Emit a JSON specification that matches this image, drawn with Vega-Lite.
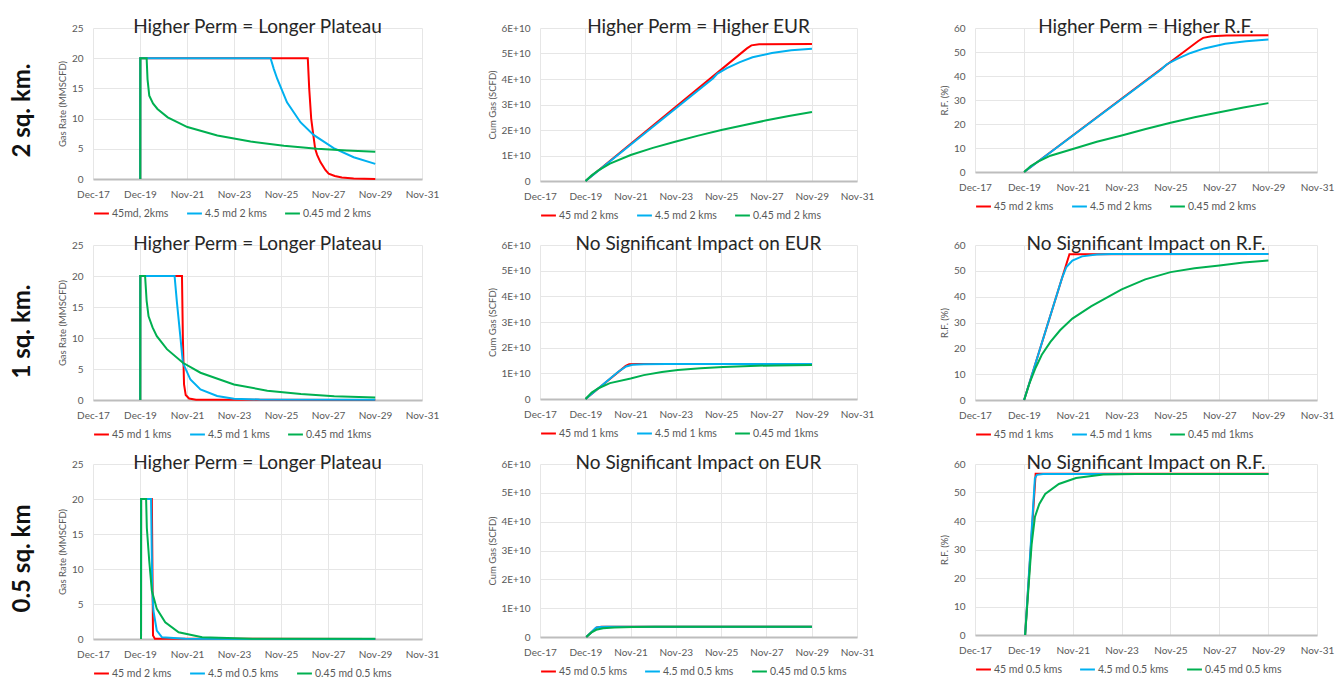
{
"$schema":"https://vega.github.io/schema/vega-lite/v6.json",
"background":"white",
"padding":{"left":11,"top":18,"right":5,"bottom":1},
"spacing":14,
"config":{
 "font":"Lato",
 "view":{"stroke":null},
 "axis":{"labelColor":"#595959","labelFontSize":10,"titleColor":"#595959","titleFontSize":9.5,"titleFontWeight":"normal","gridColor":"#e6e6e6","ticks":false,"domain":false,"labelPadding":10,"titlePadding":4},
 "axisX":{"domain":true,"domainColor":"#bdbdbd","domainWidth":2,"labelPadding":10},
 "legend":{"orient":"bottom","direction":"horizontal","gridAlign":"none","symbolType":"stroke","symbolStrokeWidth":2.5,"symbolSize":220,"labelFontSize":10.5,"labelColor":"#595959","columnPadding":14,"offset":6,"labelOffset":2},
 "title":{"fontSize":19,"fontWeight":"normal","color":"#262626","offset":-14},
 "line":{"strokeWidth":2}
},
"resolve":{"scale":{"color":"independent"},"legend":{"color":"independent"}},
"datasets":{
"r11":[
{"k":"a","d":"2019-12-05","v":0},{"k":"a","d":"2019-12-06","v":20},{"k":"a","d":"2027-01-19","v":20},{"k":"a","d":"2027-02-10","v":15},{"k":"a","d":"2027-03-13","v":10},{"k":"a","d":"2027-04-12","v":7.5},{"k":"a","d":"2027-05-14","v":5},{"k":"a","d":"2027-06-13","v":4},{"k":"a","d":"2027-08-03","v":2.8},{"k":"a","d":"2027-10-19","v":1.5},{"k":"a","d":"2027-12-09","v":0.9},{"k":"a","d":"2028-03-13","v":0.5},{"k":"a","d":"2028-07-01","v":0.25},{"k":"a","d":"2029-01-01","v":0.08},{"k":"a","d":"2029-12-02","v":0.02},
{"k":"b","d":"2019-12-05","v":0},{"k":"b","d":"2019-12-06","v":20},{"k":"b","d":"2025-06-20","v":20},{"k":"b","d":"2025-08-10","v":18.2},{"k":"b","d":"2025-10-01","v":16.6},{"k":"b","d":"2026-03-02","v":12.7},{"k":"b","d":"2026-09-27","v":9.4},{"k":"b","d":"2027-04-19","v":7.3},{"k":"b","d":"2028-02-25","v":5.1},{"k":"b","d":"2029-01-01","v":3.6},{"k":"b","d":"2029-12-02","v":2.5},
{"k":"c","d":"2019-12-05","v":0},{"k":"c","d":"2019-12-06","v":20},{"k":"c","d":"2020-03-13","v":20},{"k":"c","d":"2020-03-27","v":16.5},{"k":"c","d":"2020-04-23","v":13.8},{"k":"c","d":"2020-06-20","v":12.5},{"k":"c","d":"2020-08-28","v":11.6},{"k":"c","d":"2021-02-03","v":10.2},{"k":"c","d":"2021-12-06","v":8.6},{"k":"c","d":"2023-03-16","v":7.2},{"k":"c","d":"2024-08-14","v":6.2},{"k":"c","d":"2026-01-12","v":5.5},{"k":"c","d":"2027-06-13","v":5.0},{"k":"c","d":"2028-09-13","v":4.7},{"k":"c","d":"2029-12-02","v":4.5}
],
"r12":[
{"k":"a","d":"2019-12-05","v":0},{"k":"a","d":"2027-01-19","v":5.2e10},{"k":"a","d":"2027-04-01","v":5.32e10},{"k":"a","d":"2027-08-03","v":5.36e10},{"k":"a","d":"2029-12-02","v":5.37e10},
{"k":"b","d":"2019-12-05","v":0},{"k":"b","d":"2025-07-19","v":4.02e10},{"k":"b","d":"2025-10-01","v":4.21e10},{"k":"b","d":"2026-03-02","v":4.43e10},{"k":"b","d":"2026-09-27","v":4.66e10},{"k":"b","d":"2027-04-19","v":4.85e10},{"k":"b","d":"2028-02-25","v":5.02e10},{"k":"b","d":"2029-01-01","v":5.13e10},{"k":"b","d":"2029-12-02","v":5.19e10},
{"k":"c","d":"2019-12-05","v":0},{"k":"c","d":"2020-03-13","v":2.2e9},{"k":"c","d":"2020-07-01","v":4.2e9},{"k":"c","d":"2021-01-01","v":6.8e9},{"k":"c","d":"2021-12-02","v":1.02e10},{"k":"c","d":"2022-11-25","v":1.3e10},{"k":"c","d":"2023-12-02","v":1.55e10},{"k":"c","d":"2024-11-25","v":1.78e10},{"k":"c","d":"2025-12-02","v":2.0e10},{"k":"c","d":"2026-11-25","v":2.19e10},{"k":"c","d":"2027-12-02","v":2.38e10},{"k":"c","d":"2028-11-25","v":2.55e10},{"k":"c","d":"2029-12-02","v":2.71e10}
],
"r13":[
{"k":"a","d":"2019-12-05","v":0},{"k":"a","d":"2027-01-19","v":54.6},{"k":"a","d":"2027-04-01","v":55.9},{"k":"a","d":"2027-08-03","v":56.6},{"k":"a","d":"2028-03-13","v":56.9},{"k":"a","d":"2029-12-02","v":57.0},
{"k":"b","d":"2019-12-05","v":0},{"k":"b","d":"2025-07-19","v":42.8},{"k":"b","d":"2025-10-01","v":44.8},{"k":"b","d":"2026-03-02","v":47.0},{"k":"b","d":"2026-09-27","v":49.6},{"k":"b","d":"2027-04-19","v":51.5},{"k":"b","d":"2028-02-25","v":53.4},{"k":"b","d":"2029-01-01","v":54.5},{"k":"b","d":"2029-12-02","v":55.2},
{"k":"c","d":"2019-12-05","v":0},{"k":"c","d":"2020-03-13","v":2.5},{"k":"c","d":"2020-07-01","v":4.3},{"k":"c","d":"2021-01-01","v":6.8},{"k":"c","d":"2021-12-02","v":9.6},{"k":"c","d":"2022-11-25","v":12.6},{"k":"c","d":"2023-12-02","v":15.2},{"k":"c","d":"2024-11-25","v":17.9},{"k":"c","d":"2025-12-02","v":20.5},{"k":"c","d":"2026-11-25","v":22.8},{"k":"c","d":"2027-12-02","v":24.9},{"k":"c","d":"2028-11-25","v":26.9},{"k":"c","d":"2029-12-02","v":28.7}
],
"r21":[
{"k":"a","d":"2019-12-05","v":0},{"k":"a","d":"2019-12-06","v":20},{"k":"a","d":"2021-09-13","v":20},{"k":"a","d":"2021-09-27","v":10},{"k":"a","d":"2021-10-15","v":2.5},{"k":"a","d":"2021-11-10","v":0.8},{"k":"a","d":"2022-01-01","v":0.25},{"k":"a","d":"2022-04-19","v":0.05},{"k":"a","d":"2029-12-02","v":0},
{"k":"b","d":"2019-12-05","v":0},{"k":"b","d":"2019-12-06","v":20},{"k":"b","d":"2021-05-21","v":20},{"k":"b","d":"2021-06-27","v":15.7},{"k":"b","d":"2021-08-18","v":10.3},{"k":"b","d":"2021-09-27","v":6.0},{"k":"b","d":"2022-01-22","v":3.3},{"k":"b","d":"2022-06-27","v":1.7},{"k":"b","d":"2023-03-13","v":0.65},{"k":"b","d":"2023-11-29","v":0.2},{"k":"b","d":"2025-01-01","v":0.08},{"k":"b","d":"2029-12-02","v":0.05},
{"k":"c","d":"2019-12-05","v":0},{"k":"c","d":"2019-12-06","v":20},{"k":"c","d":"2020-02-18","v":20},{"k":"c","d":"2020-03-13","v":16},{"k":"c","d":"2020-04-12","v":13.5},{"k":"c","d":"2020-06-13","v":11.7},{"k":"c","d":"2020-08-18","v":10.3},{"k":"c","d":"2021-01-22","v":8.2},{"k":"c","d":"2021-09-27","v":6.0},{"k":"c","d":"2022-06-27","v":4.4},{"k":"c","d":"2023-11-29","v":2.5},{"k":"c","d":"2025-04-30","v":1.5},{"k":"c","d":"2026-10-04","v":0.95},{"k":"c","d":"2028-03-05","v":0.6},{"k":"c","d":"2029-12-02","v":0.4}
],
"r22":[
{"k":"a","d":"2019-12-05","v":0},{"k":"a","d":"2021-09-13","v":1.29e10},{"k":"a","d":"2021-11-07","v":1.35e10},{"k":"a","d":"2022-03-13","v":1.36e10},{"k":"a","d":"2029-12-02","v":1.36e10},
{"k":"b","d":"2019-12-05","v":0},{"k":"b","d":"2021-05-21","v":1.07e10},{"k":"b","d":"2021-09-20","v":1.27e10},{"k":"b","d":"2022-01-01","v":1.33e10},{"k":"b","d":"2022-07-01","v":1.35e10},{"k":"b","d":"2023-07-01","v":1.36e10},{"k":"b","d":"2029-12-02","v":1.36e10},
{"k":"c","d":"2019-12-05","v":0},{"k":"c","d":"2020-03-13","v":2.5e9},{"k":"c","d":"2020-07-01","v":4.2e9},{"k":"c","d":"2021-01-01","v":6.2e9},{"k":"c","d":"2021-12-02","v":8.0e9},{"k":"c","d":"2022-07-01","v":9.3e9},{"k":"c","d":"2023-04-19","v":1.05e10},{"k":"c","d":"2024-01-01","v":1.13e10},{"k":"c","d":"2025-01-01","v":1.2e10},{"k":"c","d":"2026-01-01","v":1.25e10},{"k":"c","d":"2027-03-13","v":1.29e10},{"k":"c","d":"2028-04-19","v":1.31e10},{"k":"c","d":"2029-12-02","v":1.32e10}
],
"r23":[
{"k":"a","d":"2019-12-05","v":0},{"k":"a","d":"2021-10-12","v":56.4},{"k":"a","d":"2029-12-02","v":56.5},
{"k":"b","d":"2019-12-05","v":0},{"k":"b","d":"2021-06-27","v":47.5},{"k":"b","d":"2021-08-28","v":51.5},{"k":"b","d":"2021-11-25","v":54.0},{"k":"b","d":"2022-04-19","v":55.6},{"k":"b","d":"2022-11-25","v":56.3},{"k":"b","d":"2023-07-01","v":56.5},{"k":"b","d":"2029-12-02","v":56.5},
{"k":"c","d":"2019-12-05","v":0},{"k":"c","d":"2020-02-18","v":6.1},{"k":"c","d":"2020-05-25","v":12.5},{"k":"c","d":"2020-08-25","v":17.5},{"k":"c","d":"2021-01-01","v":22.5},{"k":"c","d":"2021-05-25","v":27.0},{"k":"c","d":"2021-11-25","v":31.5},{"k":"c","d":"2022-09-06","v":36.3},{"k":"c","d":"2023-12-02","v":42.8},{"k":"c","d":"2024-11-18","v":46.7},{"k":"c","d":"2025-12-02","v":49.5},{"k":"c","d":"2026-11-25","v":51.0},{"k":"c","d":"2027-12-02","v":52.1},{"k":"c","d":"2028-11-25","v":53.2},{"k":"c","d":"2029-12-02","v":54.0}
],
"r31":[
{"k":"a","d":"2019-12-17","v":0},{"k":"a","d":"2019-12-18","v":20},{"k":"a","d":"2020-06-02","v":20},{"k":"a","d":"2020-06-20","v":0.5},{"k":"a","d":"2020-07-19","v":0.05},{"k":"a","d":"2029-12-02","v":0},
{"k":"b","d":"2019-12-17","v":0},{"k":"b","d":"2019-12-18","v":20},{"k":"b","d":"2020-05-21","v":20},{"k":"b","d":"2020-06-08","v":7.0},{"k":"b","d":"2020-06-27","v":4.0},{"k":"b","d":"2020-08-18","v":1.2},{"k":"b","d":"2020-11-07","v":0.24},{"k":"b","d":"2021-11-03","v":0.02},{"k":"b","d":"2029-12-02","v":0},
{"k":"c","d":"2019-12-17","v":0},{"k":"c","d":"2019-12-18","v":20},{"k":"c","d":"2020-03-05","v":20},{"k":"c","d":"2020-03-16","v":15.9},{"k":"c","d":"2020-04-23","v":11.1},{"k":"c","d":"2020-06-02","v":6.9},{"k":"c","d":"2020-08-18","v":4.3},{"k":"c","d":"2020-12-27","v":2.4},{"k":"c","d":"2021-07-23","v":0.95},{"k":"c","d":"2022-07-23","v":0.24},{"k":"c","d":"2024-09-13","v":0.05},{"k":"c","d":"2029-12-02","v":0.02}
],
"r32":[
{"k":"a","d":"2019-12-17","v":0},{"k":"a","d":"2020-06-02","v":3.3e9},{"k":"a","d":"2020-08-18","v":3.55e9},{"k":"a","d":"2029-12-02","v":3.55e9},
{"k":"b","d":"2019-12-17","v":0},{"k":"b","d":"2020-05-21","v":3.2e9},{"k":"b","d":"2020-07-19","v":3.45e9},{"k":"b","d":"2020-11-07","v":3.55e9},{"k":"b","d":"2029-12-02","v":3.55e9},
{"k":"c","d":"2019-12-17","v":0},{"k":"c","d":"2020-03-05","v":1.5e9},{"k":"c","d":"2020-05-25","v":2.5e9},{"k":"c","d":"2020-09-13","v":3.0e9},{"k":"c","d":"2021-03-13","v":3.3e9},{"k":"c","d":"2022-01-01","v":3.5e9},{"k":"c","d":"2023-01-01","v":3.55e9},{"k":"c","d":"2029-12-02","v":3.55e9}
],
"r33":[
{"k":"a","d":"2019-12-20","v":0},{"k":"a","d":"2020-05-25","v":56.6},{"k":"a","d":"2029-12-02","v":56.6},
{"k":"b","d":"2019-12-20","v":0},{"k":"b","d":"2020-05-14","v":55.0},{"k":"b","d":"2020-06-13","v":56.2},{"k":"b","d":"2020-09-13","v":56.5},{"k":"b","d":"2029-12-02","v":56.5},
{"k":"c","d":"2019-12-20","v":0},{"k":"c","d":"2020-03-05","v":25},{"k":"c","d":"2020-03-27","v":32},{"k":"c","d":"2020-05-14","v":41.4},{"k":"c","d":"2020-07-19","v":46},{"k":"c","d":"2020-10-15","v":49.5},{"k":"c","d":"2021-05-07","v":53},{"k":"c","d":"2022-01-19","v":55.1},{"k":"c","d":"2023-03-02","v":56.3},{"k":"c","d":"2024-07-01","v":56.5},{"k":"c","d":"2029-12-02","v":56.5}
]
},
"vconcat":[
{"title":{"text":"2 sq. km.","orient":"left","anchor":"middle","fontSize":24,"fontWeight":"bold","color":"#111111","offset":22,"dx":9},
 "spacing":65,"resolve":{"scale":{"color":"independent"},"legend":{"color":"independent"}},
 "hconcat":[
 {"spacing":48,"resolve":{"scale":{"color":"independent"},"legend":{"color":"independent"}},
  "hconcat":[
  {"width":329,"height":151,"data":{"name":"r11"},"title":"Higher Perm = Longer Plateau","mark":{"type":"line"},
   "encoding":{
    "x":{"field":"d","type":"temporal","scale":{"type":"utc","domain":[{"year":2017,"month":12,"date":1,"utc":true},{"year":2031,"month":11,"date":28,"utc":true}]},"axis":{"title":null,"format":"%b-%y","labelOverlap":false,"labelFlush":false,"values":[{"year":2017,"month":12,"date":1,"utc":true},{"year":2019,"month":12,"date":1,"utc":true},{"year":2021,"month":11,"date":30,"utc":true},{"year":2023,"month":11,"date":30,"utc":true},{"year":2025,"month":11,"date":29,"utc":true},{"year":2027,"month":11,"date":29,"utc":true},{"year":2029,"month":11,"date":28,"utc":true},{"year":2031,"month":11,"date":28,"utc":true}]}},
    "y":{"field":"v","type":"quantitative","scale":{"domain":[0,25],"nice":false},"axis":{"title":"Gas Rate (MMSCFD)","values":[0,5,10,15,20,25]}},
    "color":{"field":"k","type":"nominal","scale":{"domain":["a","b","c"],"range":["#ff0000","#00b0f0","#00b050"]},"legend":{"title":null,"labelExpr":"datum.label=='a'?'45md, 2kms':datum.label=='b'?'4.5 md 2 kms':'0.45 md 2 kms'"}}}},
  {"width":317,"height":153,"data":{"name":"r12"},"title":"Higher Perm = Higher EUR","mark":{"type":"line"},
   "encoding":{
    "x":{"field":"d","type":"temporal","scale":{"type":"utc","domain":[{"year":2017,"month":12,"date":1,"utc":true},{"year":2031,"month":11,"date":28,"utc":true}]},"axis":{"title":null,"format":"%b-%y","labelOverlap":false,"labelFlush":false,"values":[{"year":2017,"month":12,"date":1,"utc":true},{"year":2019,"month":12,"date":1,"utc":true},{"year":2021,"month":11,"date":30,"utc":true},{"year":2023,"month":11,"date":30,"utc":true},{"year":2025,"month":11,"date":29,"utc":true},{"year":2027,"month":11,"date":29,"utc":true},{"year":2029,"month":11,"date":28,"utc":true},{"year":2031,"month":11,"date":28,"utc":true}]}},
    "y":{"field":"v","type":"quantitative","scale":{"domain":[0,6e10],"nice":false},"axis":{"title":"Cum Gas (SCFD)","values":[0,1e10,2e10,3e10,4e10,5e10,6e10],"labelExpr":"datum.value==0?'0':round(datum.value/1e10)+'E+10'"}},
    "color":{"field":"k","type":"nominal","scale":{"domain":["a","b","c"],"range":["#ff0000","#00b0f0","#00b050"]},"legend":{"title":null,"labelExpr":"datum.label=='a'?'45 md 2 kms':datum.label=='b'?'4.5 md 2 kms':'0.45 md 2 kms'"}}}}
  ]},
  {"width":342,"height":144,"data":{"name":"r13"},"title":"Higher Perm = Higher R.F.","mark":{"type":"line"},
   "encoding":{
    "x":{"field":"d","type":"temporal","scale":{"type":"utc","domain":[{"year":2017,"month":12,"date":1,"utc":true},{"year":2031,"month":11,"date":28,"utc":true}]},"axis":{"title":null,"format":"%b-%y","labelOverlap":false,"labelFlush":false,"values":[{"year":2017,"month":12,"date":1,"utc":true},{"year":2019,"month":12,"date":1,"utc":true},{"year":2021,"month":11,"date":30,"utc":true},{"year":2023,"month":11,"date":30,"utc":true},{"year":2025,"month":11,"date":29,"utc":true},{"year":2027,"month":11,"date":29,"utc":true},{"year":2029,"month":11,"date":28,"utc":true},{"year":2031,"month":11,"date":28,"utc":true}]}},
    "y":{"field":"v","type":"quantitative","scale":{"domain":[0,60],"nice":false},"axis":{"title":"R.F. (%)","values":[0,10,20,30,40,50,60]}},
    "color":{"field":"k","type":"nominal","scale":{"domain":["a","b","c"],"range":["#ff0000","#00b0f0","#00b050"]},"legend":{"title":null,"labelExpr":"datum.label=='a'?'45 md 2 kms':datum.label=='b'?'4.5 md 2 kms':'0.45 md 2 kms'"}}}}
 ]},
{"title":{"text":"1 sq. km.","orient":"left","anchor":"middle","fontSize":24,"fontWeight":"bold","color":"#111111","offset":22,"dx":6},
 "spacing":65,"resolve":{"scale":{"color":"independent"},"legend":{"color":"independent"}},
 "hconcat":[
 {"spacing":48,"resolve":{"scale":{"color":"independent"},"legend":{"color":"independent"}},
  "hconcat":[
  {"width":329,"height":155,"data":{"name":"r21"},"title":"Higher Perm = Longer Plateau","mark":{"type":"line"},
   "encoding":{
    "x":{"field":"d","type":"temporal","scale":{"type":"utc","domain":[{"year":2017,"month":12,"date":1,"utc":true},{"year":2031,"month":11,"date":28,"utc":true}]},"axis":{"title":null,"format":"%b-%y","labelOverlap":false,"labelFlush":false,"values":[{"year":2017,"month":12,"date":1,"utc":true},{"year":2019,"month":12,"date":1,"utc":true},{"year":2021,"month":11,"date":30,"utc":true},{"year":2023,"month":11,"date":30,"utc":true},{"year":2025,"month":11,"date":29,"utc":true},{"year":2027,"month":11,"date":29,"utc":true},{"year":2029,"month":11,"date":28,"utc":true},{"year":2031,"month":11,"date":28,"utc":true}]}},
    "y":{"field":"v","type":"quantitative","scale":{"domain":[0,25],"nice":false},"axis":{"title":"Gas Rate (MMSCFD)","values":[0,5,10,15,20,25]}},
    "color":{"field":"k","type":"nominal","scale":{"domain":["a","b","c"],"range":["#ff0000","#00b0f0","#00b050"]},"legend":{"title":null,"labelExpr":"datum.label=='a'?'45 md 1 kms':datum.label=='b'?'4.5 md 1 kms':'0.45 md 1kms'"}}}},
  {"width":317,"height":154,"data":{"name":"r22"},"title":"No Significant Impact on EUR","mark":{"type":"line"},
   "encoding":{
    "x":{"field":"d","type":"temporal","scale":{"type":"utc","domain":[{"year":2017,"month":12,"date":1,"utc":true},{"year":2031,"month":11,"date":28,"utc":true}]},"axis":{"title":null,"format":"%b-%y","labelOverlap":false,"labelFlush":false,"values":[{"year":2017,"month":12,"date":1,"utc":true},{"year":2019,"month":12,"date":1,"utc":true},{"year":2021,"month":11,"date":30,"utc":true},{"year":2023,"month":11,"date":30,"utc":true},{"year":2025,"month":11,"date":29,"utc":true},{"year":2027,"month":11,"date":29,"utc":true},{"year":2029,"month":11,"date":28,"utc":true},{"year":2031,"month":11,"date":28,"utc":true}]}},
    "y":{"field":"v","type":"quantitative","scale":{"domain":[0,6e10],"nice":false},"axis":{"title":"Cum Gas (SCFD)","values":[0,1e10,2e10,3e10,4e10,5e10,6e10],"labelExpr":"datum.value==0?'0':round(datum.value/1e10)+'E+10'"}},
    "color":{"field":"k","type":"nominal","scale":{"domain":["a","b","c"],"range":["#ff0000","#00b0f0","#00b050"]},"legend":{"title":null,"labelExpr":"datum.label=='a'?'45 md 1 kms':datum.label=='b'?'4.5 md 1 kms':'0.45 md 1kms'"}}}}
  ]},
  {"width":342,"height":155,"data":{"name":"r23"},"title":"No Significant Impact on R.F.","mark":{"type":"line"},
   "encoding":{
    "x":{"field":"d","type":"temporal","scale":{"type":"utc","domain":[{"year":2017,"month":12,"date":1,"utc":true},{"year":2031,"month":11,"date":28,"utc":true}]},"axis":{"title":null,"format":"%b-%y","labelOverlap":false,"labelFlush":false,"values":[{"year":2017,"month":12,"date":1,"utc":true},{"year":2019,"month":12,"date":1,"utc":true},{"year":2021,"month":11,"date":30,"utc":true},{"year":2023,"month":11,"date":30,"utc":true},{"year":2025,"month":11,"date":29,"utc":true},{"year":2027,"month":11,"date":29,"utc":true},{"year":2029,"month":11,"date":28,"utc":true},{"year":2031,"month":11,"date":28,"utc":true}]}},
    "y":{"field":"v","type":"quantitative","scale":{"domain":[0,60],"nice":false},"axis":{"title":"R.F. (%)","values":[0,10,20,30,40,50,60]}},
    "color":{"field":"k","type":"nominal","scale":{"domain":["a","b","c"],"range":["#ff0000","#00b0f0","#00b050"]},"legend":{"title":null,"labelExpr":"datum.label=='a'?'45 md 1 kms':datum.label=='b'?'4.5 md 1 kms':'0.45 md 1kms'"}}}}
 ]},
{"title":{"text":"0.5 sq. km","orient":"left","anchor":"middle","fontSize":24,"fontWeight":"bold","color":"#111111","offset":22,"dx":8},
 "spacing":65,"resolve":{"scale":{"color":"independent"},"legend":{"color":"independent"}},
 "hconcat":[
 {"spacing":48,"resolve":{"scale":{"color":"independent"},"legend":{"color":"independent"}},
  "hconcat":[
  {"width":329,"height":175,"data":{"name":"r31"},"title":"Higher Perm = Longer Plateau","mark":{"type":"line"},
   "encoding":{
    "x":{"field":"d","type":"temporal","scale":{"type":"utc","domain":[{"year":2017,"month":12,"date":1,"utc":true},{"year":2031,"month":11,"date":28,"utc":true}]},"axis":{"title":null,"format":"%b-%y","labelOverlap":false,"labelFlush":false,"values":[{"year":2017,"month":12,"date":1,"utc":true},{"year":2019,"month":12,"date":1,"utc":true},{"year":2021,"month":11,"date":30,"utc":true},{"year":2023,"month":11,"date":30,"utc":true},{"year":2025,"month":11,"date":29,"utc":true},{"year":2027,"month":11,"date":29,"utc":true},{"year":2029,"month":11,"date":28,"utc":true},{"year":2031,"month":11,"date":28,"utc":true}]}},
    "y":{"field":"v","type":"quantitative","scale":{"domain":[0,25],"nice":false},"axis":{"title":"Gas Rate (MMSCFD)","values":[0,5,10,15,20,25]}},
    "color":{"field":"k","type":"nominal","scale":{"domain":["a","b","c"],"range":["#ff0000","#00b0f0","#00b050"]},"legend":{"title":null,"labelExpr":"datum.label=='a'?'45 md 2 kms':datum.label=='b'?'4.5 md 0.5 kms':'0.45 md 0.5 kms'"}}}},
  {"width":317,"height":173,"data":{"name":"r32"},"title":"No Significant Impact on EUR","mark":{"type":"line"},
   "encoding":{
    "x":{"field":"d","type":"temporal","scale":{"type":"utc","domain":[{"year":2017,"month":12,"date":1,"utc":true},{"year":2031,"month":11,"date":28,"utc":true}]},"axis":{"title":null,"format":"%b-%y","labelOverlap":false,"labelFlush":false,"values":[{"year":2017,"month":12,"date":1,"utc":true},{"year":2019,"month":12,"date":1,"utc":true},{"year":2021,"month":11,"date":30,"utc":true},{"year":2023,"month":11,"date":30,"utc":true},{"year":2025,"month":11,"date":29,"utc":true},{"year":2027,"month":11,"date":29,"utc":true},{"year":2029,"month":11,"date":28,"utc":true},{"year":2031,"month":11,"date":28,"utc":true}]}},
    "y":{"field":"v","type":"quantitative","scale":{"domain":[0,6e10],"nice":false},"axis":{"title":"Cum Gas (SCFD)","values":[0,1e10,2e10,3e10,4e10,5e10,6e10],"labelExpr":"datum.value==0?'0':round(datum.value/1e10)+'E+10'"}},
    "color":{"field":"k","type":"nominal","scale":{"domain":["a","b","c"],"range":["#ff0000","#00b0f0","#00b050"]},"legend":{"title":null,"labelExpr":"datum.label=='a'?'45 md 0.5 kms':datum.label=='b'?'4.5 md 0.5 kms':'0.45 md 0.5 kms'"}}}}
  ]},
  {"width":342,"height":171,"data":{"name":"r33"},"title":"No Significant Impact on R.F.","mark":{"type":"line"},
   "encoding":{
    "x":{"field":"d","type":"temporal","scale":{"type":"utc","domain":[{"year":2017,"month":12,"date":1,"utc":true},{"year":2031,"month":11,"date":28,"utc":true}]},"axis":{"title":null,"format":"%b-%y","labelOverlap":false,"labelFlush":false,"values":[{"year":2017,"month":12,"date":1,"utc":true},{"year":2019,"month":12,"date":1,"utc":true},{"year":2021,"month":11,"date":30,"utc":true},{"year":2023,"month":11,"date":30,"utc":true},{"year":2025,"month":11,"date":29,"utc":true},{"year":2027,"month":11,"date":29,"utc":true},{"year":2029,"month":11,"date":28,"utc":true},{"year":2031,"month":11,"date":28,"utc":true}]}},
    "y":{"field":"v","type":"quantitative","scale":{"domain":[0,60],"nice":false},"axis":{"title":"R.F. (%)","values":[0,10,20,30,40,50,60]}},
    "color":{"field":"k","type":"nominal","scale":{"domain":["a","b","c"],"range":["#ff0000","#00b0f0","#00b050"]},"legend":{"title":null,"labelExpr":"datum.label=='a'?'45 md 0.5 kms':datum.label=='b'?'4.5 md 0.5 kms':'0.45 md 0.5 kms'"}}}}
 ]}
]
}
